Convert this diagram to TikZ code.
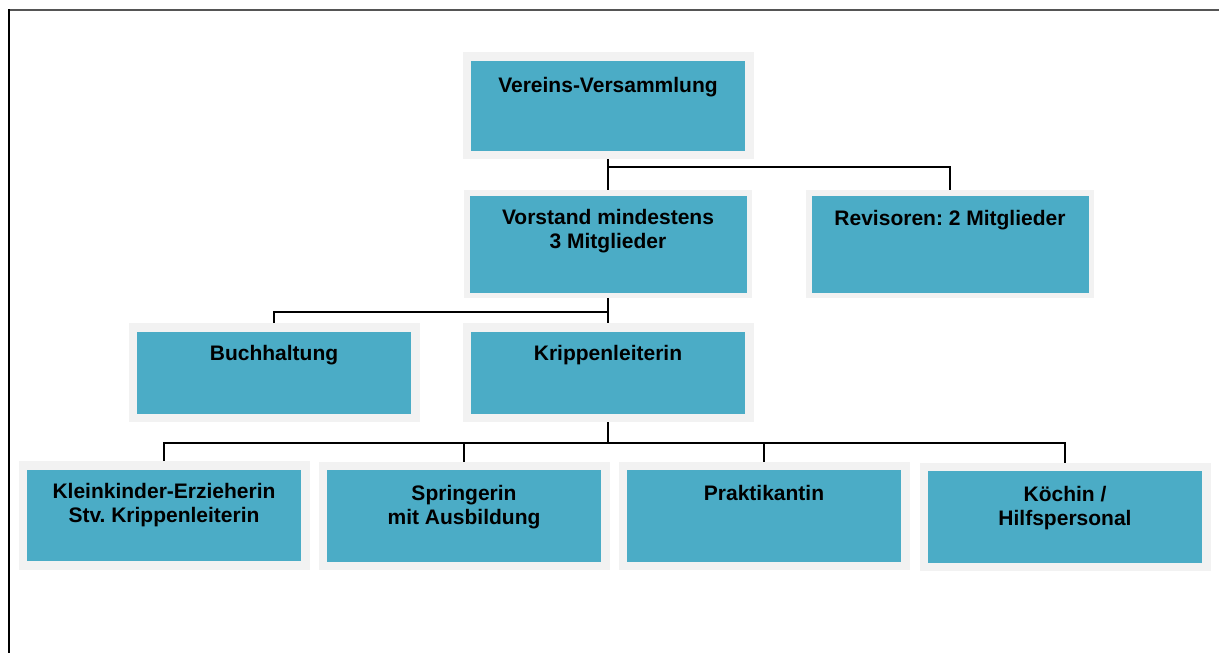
\documentclass[tikz,border=0pt]{standalone}
\usepackage{fontspec}
\setmainfont{Liberation Sans}
\usetikzlibrary{backgrounds}
\definecolor{teal}{HTML}{4BACC6}
\definecolor{framegray}{HTML}{F2F2F2}
\definecolor{topline}{HTML}{555555}
\newcommand{\ml}[1]{\begin{tabular}[t]{@{}c@{}}#1\end{tabular}}
\frenchspacing
\begin{document}
\begin{tikzpicture}[x=1pt,y=-1pt,
  orgbox/.style={fill=teal, draw=framegray, line width=8.5pt, inner sep=0pt,
    minimum width=282.5pt, minimum height=98.5pt},
  orgboxthin/.style={orgbox, line width=5.5pt, minimum height=102.5pt},
  txt/.style={anchor=base, inner sep=0pt, font=\fontsize{21}{24}\selectfont\bfseries\frenchspacing},
  conn/.style={draw=black, line width=1.8pt}]
\useasboundingbox (0,0) rectangle (1219,653);
% frame lines
\draw[topline, line width=2pt] (8,10) -- (1219,10);
\draw[black, line width=1.8pt] (8.6,9) -- (8.6,653);

% boxes
\node[orgbox] (vv) at (608,105.5) {};
\node[orgboxthin] (vor) at (608,244) {};
\node[orgboxthin] (rev) at (950,244) {};
\node[orgbox, minimum height=90.5pt] (bh) at (274,372.5) {};
\node[orgbox, minimum height=90.5pt] (kr) at (608,372.5) {};
\node[orgbox, minimum height=100pt] (b1) at (164,515.5) {};
\node[orgbox, minimum height=100pt] (b2) at (464,516) {};
\node[orgbox, minimum height=100pt] (b3) at (764,516) {};
\node[orgbox, minimum height=100pt] (b4) at (1065,517) {};

% texts
\node[txt] (tvv) at (608,92) {Vereins-Versammlung};
\node[txt] (tvor) at (608,224.5) {\ml{Vorstand mindestens\\3 Mitglieder}};
\node[txt] (trev) at (950,225) {Revisoren: 2 Mitglieder};
\node[txt] (tbh) at (274,360) {Buchhaltung};
\node[txt] (tkr) at (608,360) {Krippenleiterin};
\node[txt] (tb1) at (164,498) {\ml{Kleinkinder-Erzieherin\\Stv. Krippenleiterin}};
\node[txt] (tb2) at (464,500) {\ml{Springerin\\mit Ausbildung}};
\node[txt] (tb3) at (764,500) {Praktikantin};
\node[txt] (tb4) at (1065,501.5) {\ml{Köchin /\\Hilfspersonal}};

% junction levels
\coordinate (j1) at (0,167);
\coordinate (j2) at (0,312);
\coordinate (j3) at (0,443);

\begin{pgfonlayer}{background}
\draw[conn] (vv.south) -- (vor.north);
\draw[conn] (vv.south |- j1) -| (rev.north);
\draw[conn] (vor.south) -- (kr.north);
\draw[conn] (vor.south |- j2) -| (bh.north);
\draw[conn] (kr.south) -- (kr.south |- j3);
\draw[conn] (kr.south |- j3) -| (b1.north);
\draw[conn] (kr.south |- j3) -| (b2.north);
\draw[conn] (kr.south |- j3) -| (b3.north);
\draw[conn] (kr.south |- j3) -| (b4.north);
\end{pgfonlayer}
\end{tikzpicture}
\end{document}
